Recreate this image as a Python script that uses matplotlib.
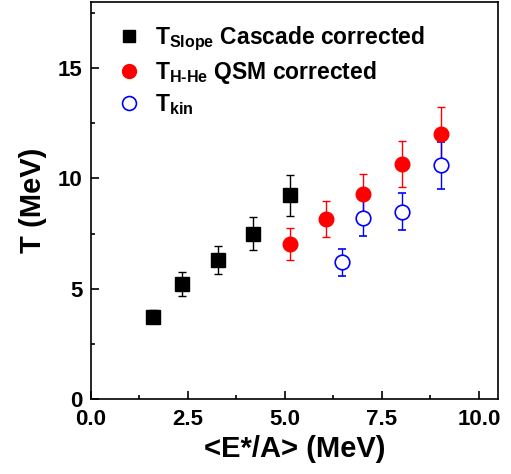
import matplotlib
matplotlib.use('Agg')
import matplotlib.pyplot as plt
from matplotlib.ticker import MultipleLocator
from matplotlib.lines import Line2D

plt.rcParams['font.family'] = 'Liberation Sans'
plt.rcParams['font.weight'] = 'bold'
plt.rcParams['mathtext.fontset'] = 'custom'
plt.rcParams['mathtext.rm'] = 'Liberation Sans:bold'
plt.rcParams['mathtext.bf'] = 'Liberation Sans:bold'

# T_Slope, cascade corrected
x_slope = [1.6, 2.35, 3.27, 4.17, 5.12]
t_slope = [3.73, 5.2, 6.3, 7.5, 9.23]
e_slope = [0.3, 0.55, 0.63, 0.75, 0.92]

# T_H-He, QSM corrected
x_hhe = [5.12, 6.05, 7.02, 8.01, 9.02]
t_hhe = [7.03, 8.17, 9.3, 10.66, 12.03]
e_hhe = [0.72, 0.82, 0.9, 1.05, 1.2]

# T_kin
x_kin = [6.46, 7.02, 8.01, 9.02]
t_kin = [6.2, 8.19, 8.5, 10.59]
e_kin = [0.62, 0.82, 0.85, 1.05]

labels = [r'$\mathbf{T_{Slope}}$ Cascade corrected',
          r'$\mathbf{T_{H\text{-}He}}$ QSM corrected',
          r'$\mathbf{T_{kin}}$']

fig = plt.figure(figsize=(5.11, 4.74), dpi=100)
ax = fig.add_axes([0.178, 0.158, 0.797, 0.838])

ax.errorbar(x_slope, t_slope, yerr=e_slope, fmt='s', color='black', ms=10,
            ecolor='black', elinewidth=1, capsize=3)
ax.errorbar(x_hhe, t_hhe, yerr=e_hhe, fmt='o', color='red', ms=10.5,
            ecolor='red', elinewidth=1, capsize=3)
ax.errorbar(x_kin, t_kin, yerr=e_kin, fmt='o', mfc='white', mec='blue', color='blue',
            ms=10.5, mew=1.2, ecolor='blue', elinewidth=1, capsize=3)

# legend shows markers only
handles = [Line2D([], [], ls='none', marker='s', color='black', ms=9),
           Line2D([], [], ls='none', marker='o', color='red', ms=10),
           Line2D([], [], ls='none', marker='o', mfc='white', mec='blue', mew=1.2, ms=10)]

ax.set_xlim(0, 10.5)
ax.set_ylim(0, 18)
ax.xaxis.set_major_locator(MultipleLocator(2.5))
ax.xaxis.set_minor_locator(MultipleLocator(1.25))
ax.yaxis.set_major_locator(MultipleLocator(5))
ax.yaxis.set_minor_locator(MultipleLocator(2.5))
ax.set_xticks([0, 2.5, 5, 7.5, 10])
ax.set_xticklabels(['0.0', '2.5', '5.0', '7.5', '10.0'])
ax.tick_params(which='both', direction='in', top=False, right=False, width=1.2)
ax.tick_params(which='major', length=6, labelsize=16)
ax.tick_params(axis='y', which='major', pad=6)
ax.tick_params(axis='x', which='major', pad=7)
ax.tick_params(which='minor', length=3)
for s in ax.spines.values():
    s.set_linewidth(1.2)

ax.set_xlabel('<E*/A> (MeV)', fontsize=21, fontweight='bold', labelpad=4)
ax.set_ylabel('T (MeV)', fontsize=21, fontweight='bold', labelpad=8)

ax.legend(handles, labels, loc='upper left', frameon=False, fontsize=16.5,
          handletextpad=0.5, labelspacing=0.25, borderaxespad=0.6, handlelength=1.3)

fig.savefig('out.png', dpi=100)
